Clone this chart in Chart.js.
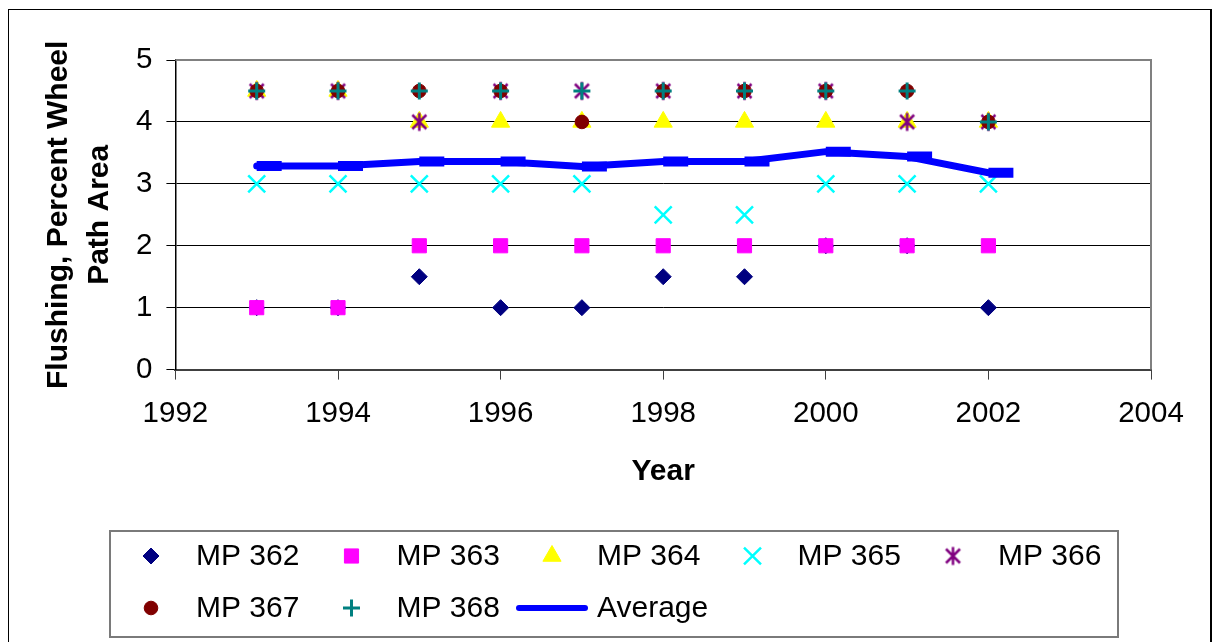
<!DOCTYPE html>
<html>
<head>
<meta charset="utf-8">
<title>Flushing, Percent Wheel Path Area</title>
<script src="https://cdn.jsdelivr.net/npm/chart.js@4.4.1/dist/chart.umd.min.js"></script>
<style>
  html, body { margin: 0; padding: 0; background: #fff; }
  #wrap { position: relative; width: 1213px; height: 642px; }
</style>
</head>
<body>
<div id="wrap"><canvas id="chart" width="1213" height="642"></canvas></div>
<script>
// Survey years and flushing ratings per milepost
const years = [1993, 1994, 1995, 1996, 1997, 1998, 1999, 2000, 2001, 2002];
const mp362 = [1, 1, 1.5, 1, 1, 1.5, 1.5, 2, 2, 1];
const mp363 = [1, 1, 2, 2, 2, 2, 2, 2, 2, 2];
const mp364 = [4.5, 4.5, 4, 4, 4, 4, 4, 4, 4, 4];
const mp365 = [3, 3, 3, 3, 3, 2.5, 2.5, 3, 3, 3];
const mp366 = [4.5, 4.5, 4, 4.5, 4.5, 4.5, 4.5, 4.5, 4, 4];
const mp367 = [4.5, 4.5, 4.5, 4.5, 4, 4.5, 4.5, 4.5, 4.5, 4];
const mp368 = [4.5, 4.5, 4.5, 4.5, 4.5, 4.5, 4.5, 4.5, 4.5, 4];
const average = [3.29, 3.29, 3.36, 3.36, 3.28, 3.36, 3.36, 3.52, 3.44, 3.18];

const seriesNames = ['MP 362', 'MP 363', 'MP 364', 'MP 365', 'MP 366', 'MP 367', 'MP 368', 'Average'];
const xTicks = [1992, 1994, 1996, 1998, 2000, 2002, 2004];
const yTicks = [0, 1, 2, 3, 4, 5];
const xTitle = 'Year';
const yTitle = ['Flushing, Percent Wheel', 'Path Area'];

const FONT = "'Liberation Sans', Arial, Helvetica, sans-serif";
Chart.defaults.font.family = FONT;
Chart.defaults.font.size = 29;
Chart.defaults.color = '#000';

// six-armed asterisk marker (X plus a vertical bar)
function asteriskMarker(color, half, vHalf, lw) {
  const c = document.createElement('canvas');
  const s = Math.ceil(Math.max(half, vHalf) * 2 + lw * 2);
  c.width = s; c.height = s;
  const g = c.getContext('2d');
  const m = s / 2;
  g.strokeStyle = color;
  g.lineWidth = lw;
  g.beginPath();
  g.moveTo(m - half, m - half); g.lineTo(m + half, m + half);
  g.moveTo(m + half, m - half); g.lineTo(m - half, m + half);
  g.moveTo(m, m - vHalf); g.lineTo(m, m + vHalf);
  g.stroke();
  return c;
}

const toPoints = vals => years.map((yr, i) => ({ x: yr, y: vals[i] }));

const styles = [
  { pointStyle: 'rectRot', radius: 8, fill: '#000080', stroke: '#000080', bw: 1 },
  { pointStyle: 'rect', radius: 10, fill: '#FF00FF', stroke: '#FF00FF', bw: 1 },
  { pointStyle: 'triangle', radius: 10.5, fill: '#FFFF00', stroke: '#FFFF00', bw: 1 },
  { pointStyle: 'crossRot', radius: 12, fill: '#00FFFF', stroke: '#00FFFF', bw: 2.5 },
  { pointStyle: asteriskMarker('#800080', 7, 9, 2.5), radius: 9, fill: '#800080', stroke: '#800080', bw: 0 },
  { pointStyle: 'circle', radius: 6.8, fill: '#800000', stroke: '#800000', bw: 1 },
  { pointStyle: 'cross', radius: 8.5, fill: '#008080', stroke: '#008080', bw: 3 }
];
const seriesValues = [mp362, mp363, mp364, mp365, mp366, mp367, mp368];

const datasets = seriesValues.map((vals, i) => ({
  label: seriesNames[i],
  data: toPoints(vals),
  showLine: false,
  pointStyle: styles[i].pointStyle,
  pointRadius: styles[i].radius,
  pointBackgroundColor: styles[i].fill,
  pointBorderColor: styles[i].stroke,
  pointBorderWidth: styles[i].bw,
  order: 7 - i
}));

datasets.push({
  label: seriesNames[7],
  data: toPoints(average),
  showLine: true,
  borderColor: '#0000FF',
  backgroundColor: '#0000FF',
  borderWidth: 7,
  borderCapStyle: 'round',
  borderJoinStyle: 'round',
  tension: 0,
  pointStyle: 'dash',
  pointRadius: 25,
  pointBorderWidth: 10,
  pointBorderColor: '#0000FF',
  pointBackgroundColor: '#0000FF',
  order: 0
});

// white page with the outer frame
const framePlugin = {
  id: 'frame',
  beforeDraw(chart) {
    const ctx = chart.ctx;
    ctx.save();
    ctx.fillStyle = '#fff';
    ctx.fillRect(0, 0, chart.width, chart.height);
    ctx.strokeStyle = '#000';
    ctx.lineWidth = 1;
    ctx.strokeRect(8.5, 9.5, 1202, 640);
    ctx.lineWidth = 2;
    ctx.beginPath();
    ctx.moveTo(1211, 9); ctx.lineTo(1211, 642);
    ctx.stroke();
    ctx.restore();
  }
};

// grey plot-area edge along the top and right
const plotEdgePlugin = {
  id: 'plotEdge',
  beforeDatasetsDraw(chart) {
    const { ctx, chartArea: a } = chart;
    ctx.save();
    ctx.strokeStyle = '#808080';
    ctx.lineWidth = 2;
    ctx.beginPath();
    ctx.moveTo(a.left, a.top);
    ctx.lineTo(a.right, a.top);
    ctx.lineTo(a.right, a.bottom);
    ctx.stroke();
    ctx.restore();
  }
};

// boxed legend: five entries per row, left aligned
const legendPlugin = {
  id: 'boxLegend',
  afterDraw(chart) {
    const ctx = chart.ctx;
    const box = { left: 110, top: 531, right: 1118, bottom: 637 };
    const firstMarkerX = 151, colStep = 200.5, textGap = 45;
    const rowY = [556, 608];
    ctx.save();
    ctx.strokeStyle = '#7a7a7a';
    ctx.lineWidth = 2;
    ctx.strokeRect(box.left, box.top, box.right - box.left, box.bottom - box.top);

    ctx.font = '30px ' + FONT;
    ctx.fillStyle = '#000';
    ctx.textBaseline = 'middle';
    ctx.textAlign = 'left';
    chart.data.datasets.forEach((ds, i) => {
      const col = i % 5, row = Math.floor(i / 5);
      const mx = firstMarkerX + col * colStep;
      const my = rowY[row];
      if (ds.showLine) {
        ctx.save();
        ctx.strokeStyle = ds.borderColor;
        ctx.lineWidth = 6;
        ctx.lineCap = 'round';
        ctx.beginPath();
        ctx.moveTo(mx - 33, my);
        ctx.lineTo(mx + 33, my);
        ctx.stroke();
        ctx.restore();
      } else {
        ctx.save();
        ctx.fillStyle = ds.pointBackgroundColor;
        ctx.strokeStyle = ds.pointBorderColor;
        ctx.lineWidth = ds.pointBorderWidth;
        Chart.helpers.drawPoint(ctx, {
          pointStyle: ds.pointStyle,
          radius: ds.pointRadius,
          rotation: 0,
          borderWidth: ds.pointBorderWidth
        }, mx, my);
        ctx.restore();
      }
      ctx.fillStyle = '#000';
      ctx.fillText(ds.label, mx + textGap, my + 1);
    });
    ctx.restore();
  }
};

new Chart(document.getElementById('chart'), {
  type: 'scatter',
  data: { datasets },
  options: {
    responsive: false,
    animation: false,
    events: [],
    layout: { padding: { top: 60, right: 62, bottom: 152, left: 38 } },
    plugins: {
      legend: { display: false },
      tooltip: { enabled: false }
    },
    scales: {
      x: {
        type: 'linear',
        min: xTicks[0],
        max: xTicks[xTicks.length - 1],
        afterBuildTicks: s => { s.ticks = xTicks.map(v => ({ value: v })); },
        ticks: {
          callback: v => String(v),
          padding: 17,
          maxRotation: 0,
          autoSkip: false,
          color: '#000',
          font: { size: 29.5 }
        },
        grid: {
          drawOnChartArea: false,
          drawTicks: true,
          tickLength: 10,
          tickColor: '#404040',
          tickWidth: 1
        },
        border: { color: '#404040', width: 2 },
        title: {
          display: true,
          text: xTitle,
          color: '#000',
          font: { size: 30, weight: 'bold' },
          padding: { top: 5, bottom: 0 }
        }
      },
      y: {
        type: 'linear',
        min: yTicks[0],
        max: yTicks[yTicks.length - 1],
        afterBuildTicks: s => { s.ticks = yTicks.map(v => ({ value: v })); },
        ticks: {
          callback: v => String(v),
          padding: 14,
          autoSkip: false,
          color: '#000',
          font: { size: 29.5 }
        },
        grid: {
          color: c => (c.tick && (c.tick.value === yTicks[0] || c.tick.value === yTicks[yTicks.length - 1])) ? 'rgba(0,0,0,0)' : '#000',
          lineWidth: 1,
          tickLength: 9,
          tickColor: '#000',
          tickWidth: 1
        },
        border: { color: '#000', width: 1.5 },
        title: {
          display: true,
          text: yTitle,
          color: '#000',
          font: { size: 30, weight: 'bold', lineHeight: '41px' },
          padding: { top: 0, bottom: 2 }
        }
      }
    }
  },
  plugins: [framePlugin, plotEdgePlugin, legendPlugin]
});
</script>
</body>
</html>
